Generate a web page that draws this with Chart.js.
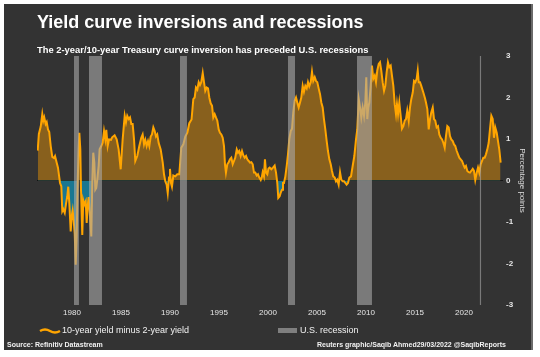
<!DOCTYPE html>
<html><head><meta charset="utf-8">
<script src="https://cdn.jsdelivr.net/npm/chart.js@4.4.0/dist/chart.umd.min.js"></script>
<style>
html,body{margin:0;padding:0;background:#fff;width:540px;height:357px;overflow:hidden;font-family:"Liberation Sans",Arial,sans-serif;}
#panel{position:absolute;left:4px;top:4px;width:527px;height:346px;background:#333333;border-right:2px solid #6a6a6a;}
#c{position:absolute;left:0;top:0;}
.t{position:absolute;white-space:nowrap;color:#fff;line-height:1;}
#title{left:37px;top:12.5px;font-size:18px;font-weight:bold;}
#sub{left:37px;top:44.7px;font-size:9.4px;font-weight:bold;}
#leg1{left:62px;top:326.4px;font-size:9px;color:#f2f2f2;}
#leg2{left:300px;top:326.4px;font-size:9px;color:#f2f2f2;}
#src{left:7px;top:341px;font-size:7px;font-weight:bold;color:#f2f2f2;}
#cred{right:34px;top:341px;font-size:7px;font-weight:bold;color:#f2f2f2;}
#icon1{position:absolute;left:39px;top:327px;}
#icon2{position:absolute;left:278px;top:327.7px;width:19px;height:5px;background:#7f7f7f;}
</style></head>
<body>
<div id="panel"></div>
<canvas id="c" width="540" height="357"></canvas>
<div class="t" id="title">Yield curve inversions and recessions</div>
<div class="t" id="sub">The 2-year/10-year Treasury curve inversion has preceded U.S. recessions</div>
<svg id="icon1" width="22" height="8" viewBox="0 0 22 8"><path d="M1,4 Q6,1 11,4 T21,4" stroke="#FFA500" stroke-width="2.4" fill="none"/></svg>
<div class="t" id="leg1">10-year yield minus 2-year yield</div>
<div id="icon2"></div>
<div class="t" id="leg2">U.S. recession</div>
<div class="t" id="src">Source: Refinitiv Datastream</div>
<div class="t" id="cred">Reuters graphic/Saqib Ahmed29/03/2022 @SaqibReports</div>
<script>
// Dates in the chart's own axis-label years
const dates = [1976.50,1976.62,1976.81,1976.97,1977.07,1977.17,1977.31,1977.42,1977.55,1977.68,1977.83,1977.99,1978.16,1978.27,1978.44,1978.57,1978.78,1978.91,1979.01,1979.11,1979.26,1979.39,1979.52,1979.62,1979.73,1979.87,1979.97,1980.07,1980.17,1980.28,1980.38,1980.48,1980.58,1980.68,1980.75,1980.85,1980.92,1981.05,1981.15,1981.26,1981.40,1981.50,1981.60,1981.70,1981.84,1981.97,1982.07,1982.17,1982.28,1982.38,1982.48,1982.58,1982.72,1982.82,1982.99,1983.13,1983.27,1983.40,1983.50,1983.64,1983.78,1983.98,
1984.10,1984.35,1984.56,1984.76,1984.97,1985.17,1985.38,1985.51,1985.64,1985.79,1985.92,1986.05,1986.19,1986.33,1986.46,1986.66,1986.87,1987.07,1987.21,1987.35,1987.48,1987.62,1987.76,1987.89,1988.03,1988.16,1988.30,1988.44,1988.57,1988.70,1988.85,1989.05,1989.26,1989.39,1989.52,1989.66,1989.77,1989.90,1990.00,1990.10,1990.20,1990.34,1990.54,1990.74,1990.95,1991.15,1991.36,1991.56,1991.77,1991.97,
1992.20,1992.38,1992.52,1992.65,1992.79,1992.93,1993.06,1993.19,1993.34,1993.47,1993.60,1993.74,1993.88,1994.01,1994.15,1994.29,1994.42,1994.56,1994.69,1994.83,1994.97,1995.10,1995.24,1995.38,1995.51,1995.61,1995.71,1995.85,1995.99,1996.12,1996.26,1996.40,1996.53,1996.66,1996.81,1996.94,1997.07,1997.21,1997.35,1997.48,1997.62,1997.76,1997.89,1998.03,1998.16,1998.30,1998.44,1998.57,1998.70,1998.85,1998.98,1999.11,1999.26,1999.36,1999.46,1999.59,1999.69,1999.80,1999.93,
2000.05,2000.17,2000.34,2000.51,2000.68,2000.82,2000.95,2001.05,2001.19,2001.29,2001.43,2001.53,2001.63,2001.77,2001.91,2002.04,2002.17,2002.32,2002.45,2002.58,2002.72,2002.86,2002.99,2003.13,2003.27,2003.40,2003.54,2003.67,2003.81,2003.95,2004.08,2004.21,2004.36,2004.49,2004.62,2004.77,2004.90,2005.03,2005.17,2005.31,2005.44,2005.58,2005.71,2005.85,2005.99,2006.12,2006.26,2006.40,2006.53,2006.66,2006.81,2006.94,2007.07,2007.21,2007.35,2007.48,2007.62,2007.76,2007.89,
2008.02,2008.16,2008.30,2008.47,2008.64,2008.81,2008.98,2009.11,2009.26,2009.39,2009.52,2009.66,2009.80,2009.93,2010.03,2010.13,2010.23,2010.34,2010.48,2010.61,2010.74,2010.89,2011.02,2011.15,2011.30,2011.43,2011.56,2011.70,2011.84,2011.97,2012.11,2012.24,2012.38,2012.52,2012.65,2012.79,2012.93,2013.06,2013.16,2013.27,2013.40,2013.54,2013.67,2013.81,2013.95,2014.08,2014.21,2014.36,2014.49,2014.62,2014.77,2014.90,2015.03,2015.17,2015.28,2015.38,2015.51,2015.64,2015.85,
2016.02,2016.12,2016.26,2016.40,2016.53,2016.66,2016.81,2016.94,2017.07,2017.21,2017.35,2017.48,2017.62,2017.76,2017.89,2018.03,2018.16,2018.30,2018.44,2018.57,2018.70,2018.85,2018.98,2019.11,2019.26,2019.39,2019.52,2019.66,2019.80,2019.93,2020.07,2020.20,2020.34,2020.48,2020.61,2020.74,2020.89,2021.02,2021.15,2021.30,2021.43,2021.56,2021.70,2021.84,2021.97,2022.11,2022.24,2022.38,2022.52,2022.65,2022.79,2022.93,2023.06,2023.19,2023.34,2023.47,2023.60,2023.74];

// 10-year yield minus 2-year yield, percentage points
const spread = [0.72,1.12,1.30,1.60,1.44,1.52,1.36,1.41,1.23,1.17,0.83,0.57,0.54,0.59,0.43,0.31,-0.06,-0.14,-0.74,-0.69,-0.78,-0.56,-0.38,-0.15,-0.56,-1.23,-0.86,-0.72,-0.96,-1.28,-2.03,-1.35,-0.06,0.79,1.15,0.75,-0.22,-1.31,-0.48,-0.58,-0.50,-1.02,-0.62,-0.40,-0.86,-1.35,-0.06,0.67,0.43,-0.22,-0.18,0.02,0.35,0.75,0.83,0.91,1.19,0.99,1.22,0.83,0.99,0.98,
1.04,1.09,0.99,0.75,0.27,0.99,1.56,1.40,1.56,1.48,1.52,1.36,1.36,0.99,0.47,0.59,0.83,1.03,1.11,0.87,0.98,0.83,0.95,0.83,1.06,1.11,1.28,1.19,1.06,1.11,0.90,0.75,0.43,0.15,-0.02,-0.10,-0.30,0.07,0.28,-0.06,-0.15,0.12,0.10,0.15,0.15,0.79,0.87,1.06,1.15,1.38,
1.47,1.96,2.00,2.24,2.19,2.37,2.30,2.37,2.59,2.37,2.16,2.24,2.22,2.00,1.86,1.80,1.52,1.60,1.52,1.44,1.23,1.15,1.11,1.03,0.83,0.39,0.19,0.39,0.44,0.51,0.55,0.39,0.47,0.55,0.75,0.67,0.71,0.59,0.71,0.61,0.55,0.59,0.51,0.47,0.43,0.44,0.39,0.19,0.19,0.12,0.15,0.07,0.01,0.07,0.20,0.10,0.51,0.19,0.15,
0.29,0.31,0.27,0.31,0.36,0.19,-0.06,-0.42,-0.38,-0.30,-0.22,-0.06,-0.06,0.10,0.35,0.63,0.99,1.19,1.25,1.64,1.92,2.00,1.88,1.76,1.88,2.00,2.28,2.14,2.28,2.22,2.37,2.27,2.37,2.62,2.40,2.49,2.40,2.37,2.22,2.08,1.88,1.76,1.48,1.23,0.95,0.71,0.51,0.39,0.23,0.10,0.07,-0.02,0.02,-0.10,0.20,0.02,-0.02,-0.02,-0.06,
-0.10,-0.06,0.07,0.10,0.35,0.59,0.99,1.23,1.96,1.76,1.52,1.76,1.56,1.88,2.49,1.48,1.76,1.88,2.28,2.77,2.45,2.53,2.37,2.65,2.81,2.85,2.65,2.37,2.16,2.28,2.61,2.85,2.73,2.77,2.53,2.28,1.84,1.60,1.84,1.60,1.88,1.56,1.25,1.31,1.44,1.48,1.68,1.44,1.76,1.96,2.12,2.40,2.37,2.45,2.65,2.37,2.37,2.28,2.12,
1.98,1.88,1.72,1.23,1.48,1.64,1.76,1.48,1.44,1.28,1.31,1.11,1.03,0.99,0.91,0.79,1.07,1.31,1.28,1.07,0.99,0.95,0.87,0.83,0.71,0.63,0.55,0.51,0.47,0.39,0.31,0.35,0.23,0.20,0.19,0.23,0.28,0.23,0.01,0.19,0.31,0.19,0.39,0.47,0.55,0.55,0.63,0.75,0.91,1.23,1.56,1.48,1.03,1.28,1.15,0.95,0.75,0.43];

// U.S. recessions, start and end, in the same axis-label years
const recStart = [1980.20, 1981.73, 1991.02, 2002.04, 2009.08, 2021.60];
const recEnd   = [1980.71, 1983.06, 1991.73, 2002.76, 2010.61, 2021.76];

const yearTicks = [1980, 1985, 1990, 1995, 2000, 2005, 2010, 2015, 2020];
const valueTicks = [-3, -2, -1, 0, 1, 2, 3];

const xMin = 1976.43, xMax = 2023.98;
const yMin = -3, yMax = 3;
const FONT = '"Liberation Sans", Arial, sans-serif';

const seriesPoints = dates.map((d, i) => ({x: d, y: spread[i]}));

const recessionSets = recStart.map((s, i) => ({
  type: 'line',
  label: 'U.S. recession',
  data: [{x: s, y: yMax}, {x: recEnd[i], y: yMax}],
  fill: {target: {value: yMin}},
  backgroundColor: 'rgba(170,170,170,0.6)',
  borderWidth: 0,
  pointRadius: 0,
  order: 0
}));

new Chart(document.getElementById('c'), {
  type: 'line',
  data: {
    datasets: [{
      label: '10-year yield minus 2-year yield',
      data: seriesPoints,
      borderColor: '#FFA500',
      borderWidth: 2,
      pointRadius: 0,
      tension: 0,
      fill: {target: 'origin', above: 'rgba(255,160,0,0.42)', below: 'rgba(22,132,162,0.85)'},
      order: 1
    }].concat(recessionSets)
  },
  options: {
    responsive: false,
    animation: false,
    devicePixelRatio: 1,
    layout: {padding: {left: 37, right: 9, top: 56, bottom: 38}},
    plugins: {legend: {display: false}, tooltip: {enabled: false}},
    scales: {
      x: {
        type: 'linear', min: xMin, max: xMax,
        grid: {display: false, drawTicks: false},
        border: {display: false},
        afterBuildTicks: (s) => { s.ticks = yearTicks.map(v => ({value: v})); },
        afterFit: (s) => { s.height = 14; },
        ticks: {color: '#e6e6e6', font: {size: 8, family: FONT}, padding: 3, maxRotation: 0, autoSkip: false,
                callback: (v) => String(v)}
      },
      y: {
        position: 'right', min: yMin, max: yMax,
        afterBuildTicks: (s) => { s.ticks = valueTicks.map(v => ({value: v})); },
        afterFit: (s) => { s.width = 28; },
        grid: {drawTicks: false, lineWidth: 1,
               color: (c) => (c.tick && c.tick.value === 0) ? '#141414' : 'rgba(0,0,0,0)'},
        border: {display: false},
        ticks: {color: '#e6e6e6', font: {size: 8, weight: 'bold', family: FONT}, padding: 3,
                callback: (v) => String(v)},
        title: {display: true, text: 'Percentage points', color: '#dddddd',
                font: {size: 8, family: FONT}, padding: {top: 4, bottom: 0}}
      }
    }
  }
});
</script>
</body></html>
